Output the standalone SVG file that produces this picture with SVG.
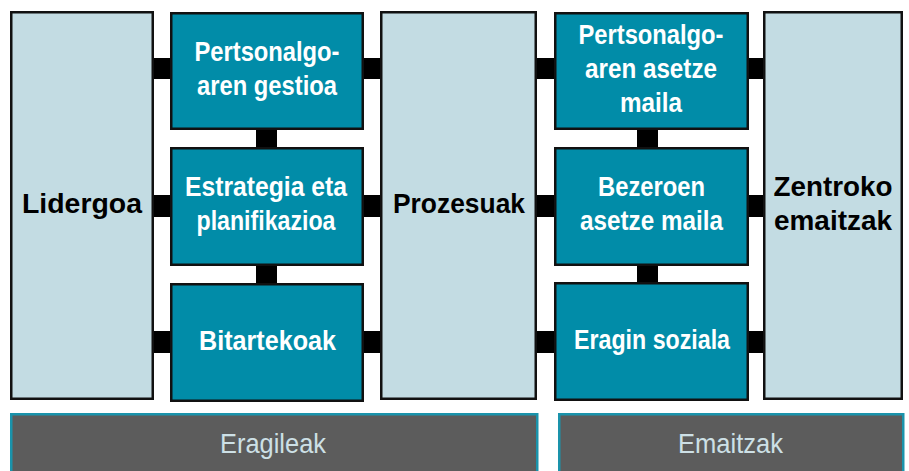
<svg xmlns="http://www.w3.org/2000/svg" width="909" height="471" viewBox="0 0 909 471">
<style>
.bg{fill:#ffffff}
.light{fill:#c3dce3;stroke:#111;stroke-width:2.5}
.teal{fill:#018ca8;stroke:#111;stroke-width:2.5}
.bar{fill:#5c5c5c;stroke:#1a93ab;stroke-width:2.5}
.con{fill:#000}
text{font-family:"Liberation Sans",Arial,sans-serif;font-size:28px;text-anchor:middle}
.w{fill:#ffffff;font-weight:bold}
.k{fill:#000000;font-weight:bold}
.b{fill:#cde0e6;font-weight:normal}
</style>
<rect class="bg" x="0" y="0" width="909" height="471"/>
<g id="connectors">
<rect class="con" x="150" y="58" width="24" height="21"/>
<rect class="con" x="150" y="195" width="24" height="22"/>
<rect class="con" x="150" y="331" width="24" height="22"/>
<rect class="con" x="360" y="58" width="24" height="21"/>
<rect class="con" x="360" y="195" width="24" height="22"/>
<rect class="con" x="360" y="331" width="24" height="22"/>
<rect class="con" x="533" y="58" width="25" height="21"/>
<rect class="con" x="533" y="195" width="25" height="22"/>
<rect class="con" x="533" y="331" width="25" height="22"/>
<rect class="con" x="745" y="58" width="22" height="21"/>
<rect class="con" x="745" y="195" width="22" height="22"/>
<rect class="con" x="745" y="331" width="22" height="22"/>
<rect class="con" x="256" y="126" width="21" height="25"/>
<rect class="con" x="256" y="262" width="21" height="25"/>
<rect class="con" x="637" y="126" width="21" height="25"/>
<rect class="con" x="637" y="262" width="21" height="24"/>
</g>
<g id="lidergoa">
<rect class="light" x="11.25" y="12.25" width="141.5" height="386.5"/>
<text class="k" x="82" y="213" textLength="120" lengthAdjust="spacingAndGlyphs">Lidergoa</text>
</g>
<g id="pertsonalgoaren-gestioa">
<rect class="teal" x="171.25" y="13.25" width="191.5" height="115.5"/>
<text class="w" x="267" y="61" textLength="145" lengthAdjust="spacingAndGlyphs">Pertsonalgo-</text>
<text class="w" x="267" y="95" textLength="140" lengthAdjust="spacingAndGlyphs">aren gestioa</text>
</g>
<g id="estrategia">
<rect class="teal" x="171.25" y="148.25" width="191.5" height="116.5"/>
<text class="w" x="266" y="196" textLength="162" lengthAdjust="spacingAndGlyphs">Estrategia eta</text>
<text class="w" x="266" y="230" textLength="139" lengthAdjust="spacingAndGlyphs">planifikazioa</text>
</g>
<g id="bitartekoak">
<rect class="teal" x="171.25" y="284.25" width="191.5" height="116.5"/>
<text class="w" x="267.5" y="350" textLength="137" lengthAdjust="spacingAndGlyphs">Bitartekoak</text>
</g>
<g id="prozesuak">
<rect class="light" x="381.25" y="12.25" width="154.5" height="386.5"/>
<text class="k" x="459" y="213" textLength="132" lengthAdjust="spacingAndGlyphs">Prozesuak</text>
</g>
<g id="pertsonalgoaren-asetze-maila">
<rect class="teal" x="555.25" y="13.25" width="192.5" height="115.5"/>
<text class="w" x="651" y="44" textLength="145" lengthAdjust="spacingAndGlyphs">Pertsonalgo-</text>
<text class="w" x="651" y="78" textLength="132" lengthAdjust="spacingAndGlyphs">aren asetze</text>
<text class="w" x="651" y="112" textLength="62" lengthAdjust="spacingAndGlyphs">maila</text>
</g>
<g id="bezeroen-asetze-maila">
<rect class="teal" x="555.25" y="148.25" width="192.5" height="116.5"/>
<text class="w" x="651.5" y="196" textLength="107" lengthAdjust="spacingAndGlyphs">Bezeroen</text>
<text class="w" x="651.5" y="230" textLength="143" lengthAdjust="spacingAndGlyphs">asetze maila</text>
</g>
<g id="eragin-soziala">
<rect class="teal" x="555.25" y="283.25" width="192.5" height="116.5"/>
<text class="w" x="652" y="349" textLength="156" lengthAdjust="spacingAndGlyphs">Eragin soziala</text>
</g>
<g id="zentroko-emaitzak">
<rect class="light" x="764.25" y="12.25" width="137.5" height="386.5"/>
<text class="k" x="833" y="196" textLength="119" lengthAdjust="spacingAndGlyphs">Zentroko</text>
<text class="k" x="833" y="230" textLength="118" lengthAdjust="spacingAndGlyphs">emaitzak</text>
</g>
<g id="eragileak">
<rect class="bar" x="11.25" y="414.25" width="526" height="70"/>
<text class="b" x="273" y="453" textLength="106" lengthAdjust="spacingAndGlyphs">Eragileak</text>
</g>
<g id="emaitzak">
<rect class="bar" x="559.25" y="414.25" width="344" height="70"/>
<text class="b" x="730.5" y="453" textLength="105" lengthAdjust="spacingAndGlyphs">Emaitzak</text>
</g>
</svg>
